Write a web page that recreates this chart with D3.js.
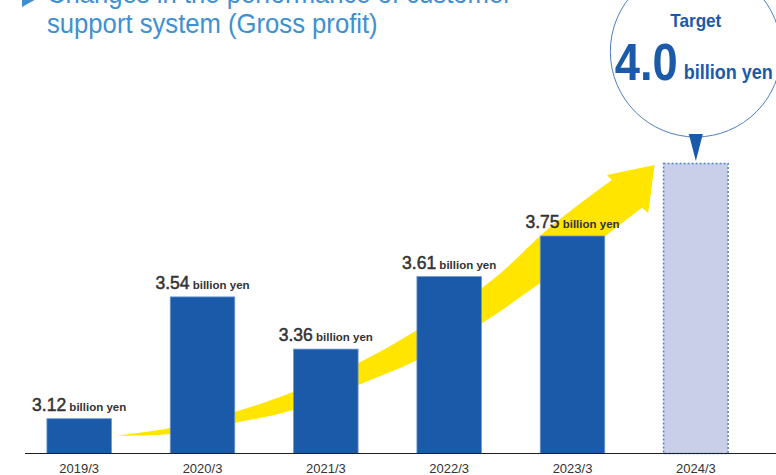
<!DOCTYPE html>
<html>
<head>
<meta charset="utf-8">
<script src="https://cdn.jsdelivr.net/npm/d3@7"></script>
<style>
  html, body { margin: 0; padding: 0; background: #fff; }
  svg { display: block; }
  text { font-family: "Liberation Sans", Arial, sans-serif; }
</style>
</head>
<body>
<svg id="chart" width="776" height="475"></svg>
<script>
// ---- data ----
const categories = ["2019/3", "2020/3", "2021/3", "2022/3", "2023/3", "2024/3"];
const values = [3.12, 3.54, 3.36, 3.61, 3.75, 4.0];
const isTarget = [false, false, false, false, false, true];
const unitLabel = "billion yen";
const titleLines = ["Changes in the performance of customer", "support system (Gross profit)"];
const targetWord = "Target";
const targetValueText = "4.0";
const yDomain = [3.0, 4.0];

// decorative growth arrow, in (band index, value) units
const arrowUpper = [[0.292, 3.061], [0.738, 3.088], [1.257, 3.143], [1.735, 3.212], [2.262, 3.312], [2.741, 3.426], [3.349, 3.598], [3.819, 3.781], [4.319, 3.943]];
const arrowHead = [[4.279, 3.960], [4.665, 3.995], [4.614, 3.829], [4.563, 3.847]];
const arrowLower = [[4.257, 3.747], [3.738, 3.588], [3.268, 3.450], [2.741, 3.322], [2.262, 3.236], [1.735, 3.150], [1.257, 3.105], [0.738, 3.067], [0.292, 3.061]];

// ---- layout ----
const W = 776, H = 475;
const baseY = 453.5, topY = 163.5;
const svg = d3.select("#chart");

const x = d3.scaleBand().domain(categories).range([17.5, 757.5]).paddingInner(0.477).paddingOuter(0.2385);
const y = d3.scaleLinear().domain(yDomain).range([baseY, topY]);
const cx = i => x(categories[0]) + x.bandwidth() / 2 + i * x.step();

const blue = "#1a5aa8";
const textDark = "#333333";

// arrow
const smooth = d3.line().x(d => d[0]).y(d => d[1]).curve(d3.curveCatmullRom.alpha(0.5));
const up = arrowUpper.map(d => [cx(d[0]), y(d[1])]);
const lo = arrowLower.map(d => [cx(d[0]), y(d[1])]);
const hd = arrowHead.map(d => [cx(d[0]), y(d[1])]);
const pathD = smooth(up) + hd.map(p => "L" + p[0] + "," + p[1]).join("") + "L" + smooth(lo).slice(1) + "Z";
svg.append("path").attr("d", pathD).attr("fill", "#ffe500");

// bars
svg.append("g").selectAll("rect").data(categories).join("rect")
  .attr("x", d => x(d))
  .attr("width", x.bandwidth())
  .attr("y", (d, i) => y(values[i]))
  .attr("height", (d, i) => baseY - y(values[i]))
  .attr("fill", (d, i) => isTarget[i] ? "#c9cfe8" : blue)
  .attr("stroke", (d, i) => isTarget[i] ? "#4d83c9" : "#6b95cf")
  .attr("stroke-width", (d, i) => isTarget[i] ? 1.5 : 0.8)
  .attr("stroke-dasharray", (d, i) => isTarget[i] ? "2,2" : null);

// value labels
const lab = svg.append("g").selectAll("text").data(categories.filter((d, i) => !isTarget[i])).join("text")
  .attr("x", d => x(d) + x.bandwidth() / 2)
  .attr("y", (d, i) => y(values[i]) - 8)
  .attr("text-anchor", "middle")
  .attr("fill", textDark)
  .attr("stroke", textDark);
lab.append("tspan").attr("font-size", 17.5).attr("stroke-width", 0.5).text((d, i) => values[i].toFixed(2));
lab.append("tspan").attr("font-size", 11.5).attr("font-weight", "bold").attr("stroke-width", 0).text(" " + unitLabel);

// x axis
const axis = svg.append("g").attr("transform", `translate(0,${baseY})`)
  .call(d3.axisBottom(x).tickSize(0).tickPadding(0));
axis.select(".domain").remove();
axis.selectAll("text").attr("font-size", 13).attr("fill", textDark)
  .attr("dy", 0).attr("y", 19.5)
  .style("font-family", '"Liberation Sans", Arial, sans-serif');
svg.append("line").attr("x1", 25).attr("x2", W).attr("y1", baseY).attr("y2", baseY)
  .attr("stroke", "#231f20").attr("stroke-width", 1.2);

// target bubble
const ti = categories.length - 1;
const tx = cx(ti);
const tipY = y(values[ti]) - 2.5;
const r = 85.5;
const circleBottom = tipY - 24;
const ccy = circleBottom - r;
svg.append("circle").attr("cx", tx).attr("cy", ccy).attr("r", r)
  .attr("fill", "#fff").attr("stroke", "#4d7fc4").attr("stroke-width", 1);
svg.append("path")
  .attr("d", `M${tx - 7},${circleBottom - 3}L${tx + 7},${circleBottom - 3}L${tx},${tipY}Z`)
  .attr("fill", blue);
svg.append("text").attr("x", tx).attr("y", ccy - 24.5).attr("text-anchor", "middle")
  .attr("font-size", 19).attr("font-weight", "bold").attr("fill", blue)
  .attr("textLength", 51).attr("lengthAdjust", "spacingAndGlyphs").text(targetWord);
svg.append("text").attr("x", tx - 81).attr("y", ccy + 28.5)
  .attr("font-size", 52).attr("font-weight", "bold").attr("fill", blue)
  .attr("textLength", 63).attr("lengthAdjust", "spacingAndGlyphs").text(targetValueText);
svg.append("text").attr("x", tx - 12).attr("y", ccy + 27.5)
  .attr("font-size", 19.5).attr("font-weight", "bold").attr("fill", blue)
  .attr("textLength", 89).attr("lengthAdjust", "spacingAndGlyphs").text(unitLabel);

// title
svg.append("path").attr("d", "M22,-8L22,7L35.5,-0.5Z").attr("fill", "#3e90d2");
svg.append("g").attr("transform", "translate(47,0) scale(0.9,1)")
  .selectAll("text").data(titleLines).join("text")
  .attr("x", 0).attr("y", (d, i) => 3 + i * 30)
  .attr("font-size", 28.5).attr("fill", "#3e90d2")
  .text(d => d);
</script>
</body>
</html>
